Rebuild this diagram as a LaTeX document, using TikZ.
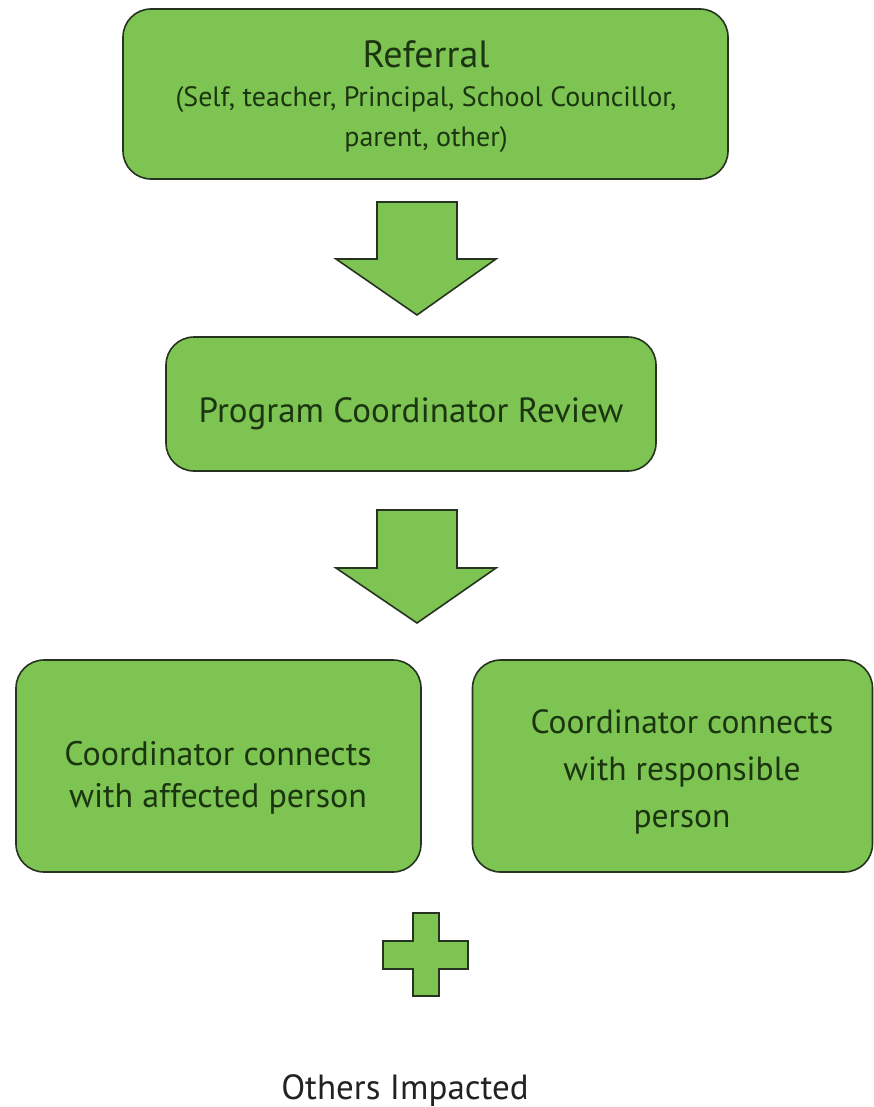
\documentclass[tikz,border=0pt]{standalone}
\usepackage{fontspec}
\setmainfont{PT Sans}
\definecolor{boxgreen}{HTML}{7DC452}
\definecolor{edgecol}{HTML}{263320}
\definecolor{ink}{HTML}{1B3510}
\definecolor{plain}{HTML}{222222}
\tikzset{
  greenbox/.style={draw=edgecol, line width=1.6pt, fill=boxgreen, rounded corners=28pt, inner sep=0pt},
  blockshape/.style={draw=edgecol, line width=1.6pt, fill=boxgreen, line join=miter},
  lbl/.style={anchor=base, inner sep=0pt, text=ink},
}
\begin{document}
\begin{tikzpicture}[x=1pt,y=-1pt]
\path[use as bounding box, fill=white] (0,0) rectangle (874,1107);

% boxes
\node[greenbox, minimum width=605pt, minimum height=170pt] (referral) at (425.5,94) {};
\node[greenbox, minimum width=490pt, minimum height=134pt] (review) at (411,404) {};
\node[greenbox, minimum width=405pt, minimum height=212pt] (affected) at (218.5,766) {};
\node[greenbox, minimum width=400pt, minimum height=212pt] (responsible) at (672.5,766) {};

% texts
\node[lbl, font=\fontsize{38}{44}\selectfont] (t1) at (426,68) {Referral};
\node[lbl, font=\fontsize{28}{34}\selectfont] (t2) at (426,107) {(Self, teacher, Principal, School Councillor,};
\node[lbl, font=\fontsize{28}{34}\selectfont] (t3) at (426,147) {parent, other)};
\node[lbl, font=\fontsize{35}{42}\selectfont] (t4) at (411,422) {Program Coordinator Review};
\node[lbl, font=\fontsize{34}{40}\selectfont] (t5) at (218,765) {Coordinator connects};
\node[lbl, font=\fontsize{34}{40}\selectfont] (t6) at (218,807) {with affected person};
\node[lbl, font=\fontsize{33.5}{40}\selectfont] (t7) at (682,733) {Coordinator connects};
\node[lbl, font=\fontsize{33.5}{40}\selectfont] (t8) at (682,780) {with responsible};
\node[lbl, font=\fontsize{33.5}{40}\selectfont] (t9) at (682,827) {person};
\node[lbl, text=plain, font=\fontsize{35}{42}\selectfont] (others) at (405,1099) {Others Impacted};

% block arrows
\draw[blockshape] (377,202) -- (457,202) -- (457,259) -- (496,259) -- (417,315) -- (336,259) -- (377,259) -- cycle;
\draw[blockshape] (377,510) -- (457,510) -- (457,568) -- (496,568) -- (417,623) -- (336,568) -- (377,568) -- cycle;

% plus
\draw[blockshape] (413,913) -- (439,913) -- (439,941) -- (468,941) -- (468,969) -- (439,969) -- (439,996) -- (413,996) -- (413,969) -- (383,969) -- (383,941) -- (413,941) -- cycle;
\end{tikzpicture}
\end{document}
